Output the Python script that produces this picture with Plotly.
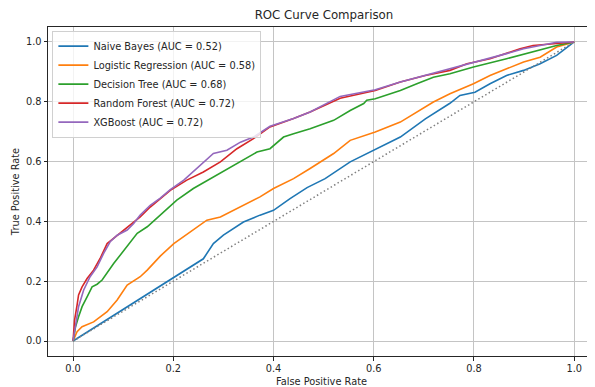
import plotly.graph_objects as go

# ---- data ----
model_names = ["Naive Bayes", "Logistic Regression", "Decision Tree", "Random Forest", "XGBoost"]
auc_values = [0.52, 0.58, 0.68, 0.72, 0.72]

nb_fpr = [0, 0.26, 0.280, 0.300, 0.340, 0.373, 0.400, 0.433, 0.467, 0.503, 0.553, 0.580, 0.603,
          0.653, 0.703, 0.752, 0.772, 0.802, 0.832, 0.865, 0.899, 0.932, 0.965, 1.0]
nb_tpr = [0, 0.275, 0.326, 0.354, 0.398, 0.421, 0.437, 0.476, 0.513, 0.543, 0.599, 0.621, 0.640,
          0.682, 0.743, 0.795, 0.821, 0.832, 0.860, 0.888, 0.905, 0.927, 0.955, 1.0]

lr_fpr = [0, 0.008, 0.018, 0.041, 0.068, 0.088, 0.108, 0.134, 0.148, 0.174, 0.201, 0.234, 0.267,
          0.294, 0.334, 0.373, 0.400, 0.440, 0.473, 0.520, 0.553, 0.603, 0.653, 0.686, 0.719, 0.752,
          0.799, 0.832, 0.865, 0.899, 0.932, 0.965, 1.0]
lr_tpr = [0, 0.031, 0.048, 0.064, 0.098, 0.137, 0.187, 0.215, 0.237, 0.284, 0.326, 0.365, 0.404,
          0.415, 0.448, 0.482, 0.510, 0.543, 0.577, 0.627, 0.671, 0.699, 0.732, 0.766, 0.799, 0.827,
          0.860, 0.888, 0.911, 0.933, 0.949, 0.983, 1.0]

dt_fpr = [0, 0.005, 0.011, 0.018, 0.028, 0.038, 0.048, 0.058, 0.081, 0.108, 0.128, 0.148, 0.174,
          0.207, 0.240, 0.280, 0.327, 0.367, 0.393, 0.420, 0.440, 0.473, 0.520, 0.553, 0.580, 0.586,
          0.603, 0.653, 0.686, 0.719, 0.752, 0.799, 0.865, 0.932, 0.965, 1.0]
dt_tpr = [0, 0.048, 0.081, 0.115, 0.148, 0.181, 0.190, 0.204, 0.259, 0.315, 0.360, 0.382, 0.420,
          0.471, 0.510, 0.549, 0.593, 0.632, 0.643, 0.682, 0.693, 0.710, 0.738, 0.771, 0.794, 0.805,
          0.810, 0.838, 0.860, 0.882, 0.894, 0.916, 0.944, 0.972, 0.988, 1.0]

rf_fpr = [0, 0.003, 0.008, 0.011, 0.018, 0.028, 0.041, 0.054, 0.068, 0.081, 0.098, 0.114, 0.134,
          0.154, 0.174, 0.194, 0.227, 0.260, 0.294, 0.327, 0.360, 0.393, 0.440, 0.473, 0.533, 0.603,
          0.653, 0.703, 0.752, 0.786, 0.832, 0.892, 0.918, 0.952, 1.0]
rf_tpr = [0, 0.070, 0.120, 0.154, 0.181, 0.209, 0.237, 0.276, 0.326, 0.343, 0.365, 0.387, 0.415,
          0.448, 0.475, 0.504, 0.538, 0.565, 0.599, 0.643, 0.677, 0.716, 0.744, 0.766, 0.812, 0.838,
          0.866, 0.888, 0.905, 0.927, 0.944, 0.977, 0.988, 0.994, 1.0]

xgb_fpr = [0, 0.005, 0.011, 0.021, 0.034, 0.048, 0.061, 0.074, 0.088, 0.108, 0.121, 0.134, 0.154,
           0.174, 0.194, 0.221, 0.247, 0.280, 0.307, 0.334, 0.360, 0.393, 0.440, 0.473, 0.533, 0.603,
           0.653, 0.703, 0.752, 0.786, 0.832, 0.865, 0.899, 0.932, 0.965, 1.0]
xgb_tpr = [0, 0.048, 0.115, 0.170, 0.215, 0.248, 0.293, 0.332, 0.354, 0.371, 0.393, 0.421, 0.454,
           0.478, 0.506, 0.538, 0.577, 0.627, 0.638, 0.665, 0.682, 0.718, 0.744, 0.766, 0.818, 0.840,
           0.866, 0.888, 0.910, 0.924, 0.944, 0.961, 0.977, 0.988, 0.999, 1.0]

diag_x = [0, 1]
diag_y = [0, 1]

tick_vals = [0.0, 0.2, 0.4, 0.6, 0.8, 1.0]
tick_text = ["0.0", "0.2", "0.4", "0.6", "0.8", "1.0"]

colors = ["#1f77b4", "#ff7f0e", "#2ca02c", "#d62728", "#9467bd"]
curves = [(nb_fpr, nb_tpr), (lr_fpr, lr_tpr), (dt_fpr, dt_tpr), (rf_fpr, rf_tpr), (xgb_fpr, xgb_tpr)]

FONT = "DejaVu Sans"
TXT = "#262626"

fig = go.Figure()
for name, auc, (fx, ty), c in zip(model_names, auc_values, curves, colors):
    fig.add_trace(go.Scatter(
        x=fx, y=ty, mode="lines", name=f"{name} (AUC = {auc:.2f})",
        line=dict(color=c, width=1.6), hoverinfo="skip"))

fig.add_trace(go.Scatter(
    x=diag_x, y=diag_y, mode="lines", showlegend=False,
    line=dict(color="gray", width=1.5, dash="1.5px,2.5px"), hoverinfo="skip"))

axis_common = dict(
    tickvals=tick_vals, ticktext=tick_text,
    showgrid=True, gridcolor="#c4c4c4", gridwidth=1,
    zeroline=False, showline=True, linecolor=TXT, linewidth=1,
    ticks="outside", ticklen=3.5, tickwidth=1, tickcolor=TXT,
    tickfont=dict(family=FONT, size=9.8, color=TXT),
    automargin=False,
)

# the page body adds an 8px offset, so the figure is sized to end at the window edge
fig.update_layout(
    width=587, height=379,
    margin=dict(l=39.6, r=0, t=18.5, b=31),
    paper_bgcolor="white", plot_bgcolor="white",
    title=dict(text="ROC Curve Comparison", x=0.5383, xanchor="center",
               y=0.9815, yanchor="middle",
               font=dict(family=FONT, size=11.8, color=TXT)),
    xaxis=dict(range=[-0.05, 1.0415], mirror=True,
               title=dict(text="False Positive Rate", standoff=5,
                          font=dict(family=FONT, size=9.8, color=TXT)),
               **axis_common),
    yaxis=dict(range=[-0.05, 1.05],
               title=dict(text="True Positive Rate", standoff=4.5,
                          font=dict(family=FONT, size=9.8, color=TXT)),
               **axis_common),
    legend=dict(x=0.008, y=0.989, xanchor="left", yanchor="top",
                bgcolor="rgba(255,255,255,0.8)", bordercolor="#d0d0d0", borderwidth=1,
                font=dict(family=FONT, size=9.8, color=TXT),
                itemwidth=30, tracegroupgap=0),
    showlegend=True,
)

fig.write_html("out.html")
